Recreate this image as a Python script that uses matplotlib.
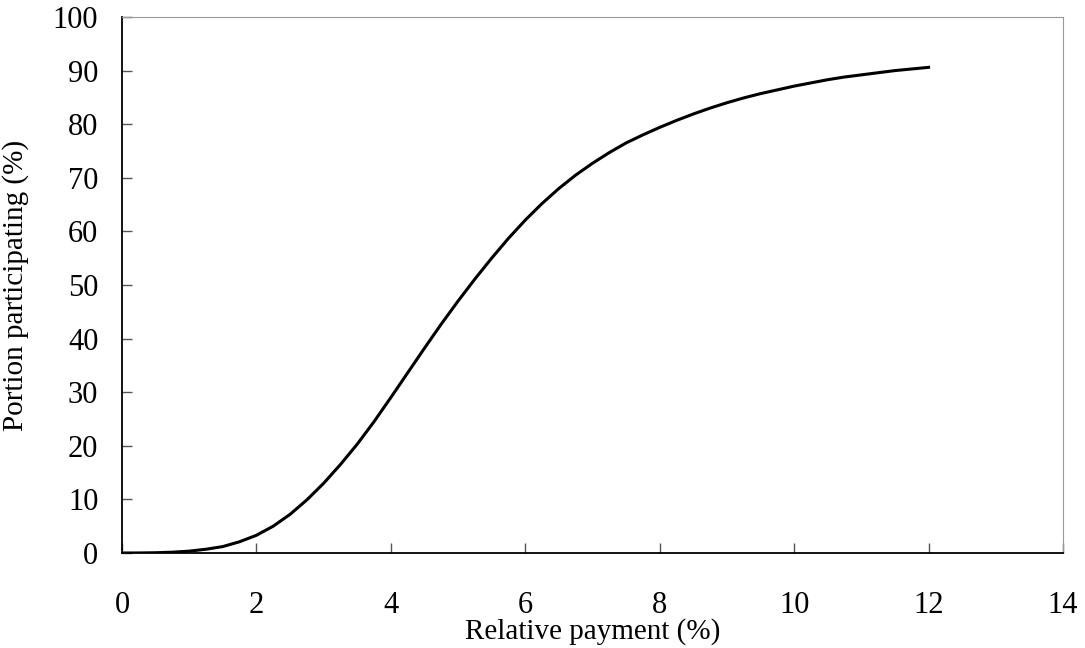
import matplotlib.pyplot as plt

# values
payment = [0, 0.25, 0.5, 0.75, 1, 1.25, 1.5, 1.75, 2, 2.25, 2.5, 2.75, 3, 3.25,
           3.5, 3.75, 4, 4.25, 4.5, 4.75, 5, 5.25, 5.5, 5.75, 6, 6.25, 6.5,
           6.75, 7, 7.25, 7.5, 7.75, 8, 8.25, 8.5, 8.75, 9, 9.25, 9.5, 9.75,
           10, 10.25, 10.5, 10.75, 11, 11.25, 11.5, 11.75, 12]
portion = [0, 0.01, 0.05, 0.15, 0.35, 0.7, 1.2, 2.1, 3.3, 5.0, 7.2, 9.9,
           13.0, 16.5, 20.3, 24.5, 29.0, 33.6, 38.2, 42.7, 47.0, 51.1, 55.0,
           58.7, 62.1, 65.2, 68.0, 70.5, 72.7, 74.7, 76.5, 78.0, 79.4, 80.7,
           81.9, 83.0, 84.0, 84.9, 85.7, 86.4, 87.1, 87.7, 88.3, 88.8, 89.2,
           89.6, 90.0, 90.3, 90.6]

xticks = [0, 2, 4, 6, 8, 10, 12, 14]
yticks = [0, 10, 20, 30, 40, 50, 60, 70, 80, 90, 100]

plt.rcParams['font.family'] = ['Liberation Serif', 'DejaVu Serif']

fig = plt.figure(figsize=(10.85, 6.48), dpi=100)
ax = fig.add_axes([0.1124, 0.1466, 0.8673, 0.8272])

ax.plot(payment, portion, color='black', lw=2.2, solid_joinstyle='round')

ax.set_xlim(0, 14)
ax.set_ylim(0, 100)
ax.set_xticks(xticks)
ax.set_yticks(yticks)
ax.tick_params(axis='both', direction='in', length=7, width=1, labelsize=22,
               color='#555555')
ax.tick_params(axis='x', pad=27)
ax.tick_params(axis='y', pad=17)

for side in ['top', 'right']:
    ax.spines[side].set_color('#999999')
for side in ['left', 'bottom']:
    ax.spines[side].set_color('black')
    ax.spines[side].set_linewidth(1.3)

ax.set_xlabel('Relative payment (%)', fontsize=21, labelpad=-1)
ax.set_ylabel('Portion participating (%)', fontsize=21, labelpad=17)

fig.savefig('out.png', dpi=100)
